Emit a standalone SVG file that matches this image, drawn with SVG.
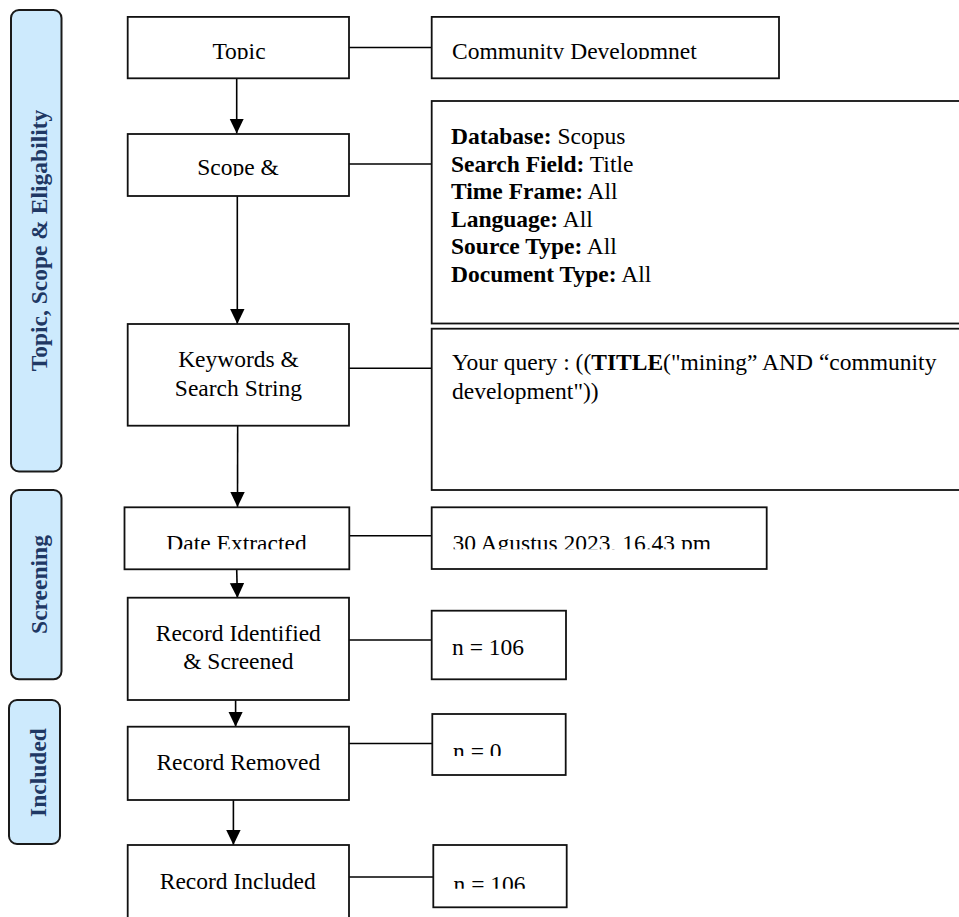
<svg xmlns="http://www.w3.org/2000/svg" width="959" height="917" viewBox="0 0 959 917">
<style>
  .band { fill: #cdeafd; stroke: #1a1a1a; stroke-width: 2; }
  .band-t { font-family: "Liberation Serif", "Times New Roman", serif; font-size: 23.5px; font-weight: bold; fill: #1f3864; text-anchor: middle; }
  .box { fill: #ffffff; stroke: #111111; stroke-width: 1.8; }
  .t { font-family: "Liberation Serif", "Times New Roman", serif; font-size: 23.5px; fill: #000000; }
  .c { text-anchor: middle; }
  .b { font-weight: bold; }
  .line { fill: none; stroke: #000000; stroke-width: 1.6; }
  .arrow { fill: none; stroke: #000000; stroke-width: 1.6; marker-end: url(#ah); }
</style>
<defs>
  <marker id="ah" markerUnits="userSpaceOnUse" markerWidth="16" markerHeight="15" refX="15" refY="7.2" orient="auto">
    <path d="M0,0 L15,7.2 L0,14.4 Z" fill="#000000"/>
  </marker>
  <clipPath id="clipTopic"><rect x="0" y="0" width="959" height="59.3"/></clipPath>
  <clipPath id="clipScope"><rect x="0" y="100" width="959" height="76"/></clipPath>
  <clipPath id="clipDate"><rect x="0" y="500" width="959" height="49.3"/></clipPath>
  <clipPath id="clipN0"><rect x="0" y="700" width="959" height="56"/></clipPath>
  <clipPath id="clipN106b"><rect x="0" y="840" width="959" height="48.7"/></clipPath>
</defs>

<!-- Phase bands -->
<g id="band-topic">
  <rect class="band" x="11" y="10" width="50.5" height="461.5" rx="8"/>
  <text class="band-t" transform="translate(46.5,240.5) rotate(-90)">Topic, Scope &amp; Eligability</text>
</g>
<g id="band-screening">
  <rect class="band" x="11" y="490" width="50.5" height="189.3" rx="8"/>
  <text class="band-t" transform="translate(46.5,584.5) rotate(-90)">Screening</text>
</g>
<g id="band-included">
  <rect class="band" x="9" y="700" width="51" height="144" rx="8"/>
  <text class="band-t" transform="translate(45.5,772.5) rotate(-90)">Included</text>
</g>

<!-- Connectors -->
<g id="connectors">
  <line class="arrow" x1="236.7" y1="78.3" x2="236.7" y2="133.5"/>
  <line class="arrow" x1="237.3" y1="196" x2="237.3" y2="324"/>
  <line class="arrow" x1="237.7" y1="405.7" x2="237.5" y2="507"/>
  <line class="arrow" x1="236.7" y1="569.3" x2="237.4" y2="598"/>
  <line class="arrow" x1="235.6" y1="693.3" x2="235.6" y2="726.7"/>
  <line class="arrow" x1="233.4" y1="788.3" x2="233.4" y2="845"/>
  <line class="line" x1="349" y1="47.5" x2="432" y2="47.5"/>
  <line class="line" x1="347.7" y1="164" x2="431.7" y2="164"/>
  <line class="line" x1="349" y1="368.3" x2="431.7" y2="368.3"/>
  <line class="line" x1="349" y1="535.7" x2="431.7" y2="535.7"/>
  <line class="line" x1="349" y1="640" x2="431.7" y2="640"/>
  <line class="line" x1="349" y1="743.5" x2="432.3" y2="743.5"/>
  <line class="line" x1="349" y1="877" x2="433.3" y2="877"/>
</g>

<!-- Left column nodes -->
<g id="node-topic">
  <rect class="box" x="127.7" y="16.9" width="221.3" height="61.4"/>
  <text class="t c" x="239" y="59" clip-path="url(#clipTopic)">Topic</text>
</g>
<g id="node-scope">
  <rect class="box" x="127.7" y="134" width="221.3" height="62"/>
  <text class="t c" x="238" y="175" clip-path="url(#clipScope)">Scope &amp;</text>
</g>
<g id="node-keywords">
  <rect class="box" x="127.7" y="324" width="221.3" height="101.7"/>
  <text class="t c" x="238.5" y="367">Keywords &amp;</text>
  <text class="t c" x="238.5" y="396">Search String</text>
</g>
<g id="node-date-extracted">
  <rect class="box" x="124.5" y="507.3" width="224.8" height="62"/>
  <text class="t c" x="236.5" y="551.3" clip-path="url(#clipDate)">Date Extracted</text>
</g>
<g id="node-record-identified">
  <rect class="box" x="127.7" y="597.7" width="221.3" height="102.3"/>
  <text class="t c" x="238.3" y="641">Record Identified</text>
  <text class="t c" x="238.3" y="669">&amp; Screened</text>
</g>
<g id="node-record-removed">
  <rect class="box" x="127.7" y="726.7" width="221.3" height="73.3"/>
  <text class="t c" x="238.3" y="770">Record Removed</text>
</g>
<g id="node-record-included">
  <rect class="box" x="127.7" y="845" width="221.3" height="90"/>
  <text class="t c" x="237.7" y="889">Record Included</text>
</g>

<!-- Right column nodes -->
<g id="node-community">
  <rect class="box" x="431.7" y="16.9" width="347.3" height="61.4"/>
  <text class="t" x="452" y="59" clip-path="url(#clipTopic)">Community Developmnet</text>
</g>
<g id="node-database">
  <rect class="box" x="431.7" y="101" width="540" height="222.5"/>
  <text class="t" x="451" y="144"><tspan class="b">Database:</tspan> Scopus</text>
  <text class="t" x="451" y="171.5"><tspan class="b">Search Field:</tspan> Title</text>
  <text class="t" x="451" y="199"><tspan class="b">Time Frame:</tspan> All</text>
  <text class="t" x="451" y="226.5"><tspan class="b">Language:</tspan> All</text>
  <text class="t" x="451" y="254"><tspan class="b">Source Type:</tspan> All</text>
  <text class="t" x="451" y="281.5"><tspan class="b">Document Type:</tspan> All</text>
</g>
<g id="node-query">
  <rect class="box" x="431.7" y="328.7" width="540" height="161.3"/>
  <text class="t" x="452" y="370">Your query : ((<tspan class="b">TITLE</tspan>("mining” AND “community</text>
  <text class="t" x="452" y="398.5">development"))</text>
</g>
<g id="node-date">
  <rect class="box" x="431.7" y="507.3" width="335" height="61.7"/>
  <text class="t" x="452.5" y="551.3" clip-path="url(#clipDate)">30 Agustus 2023, 16.43 pm</text>
</g>
<g id="node-n106a">
  <rect class="box" x="431.7" y="610.7" width="134.3" height="68.6"/>
  <text class="t" x="452" y="654.7">n = 106</text>
</g>
<g id="node-n0">
  <rect class="box" x="432.3" y="714" width="133.4" height="61"/>
  <text class="t" x="453" y="758.5" clip-path="url(#clipN0)">n = 0</text>
</g>
<g id="node-n106b">
  <rect class="box" x="433.3" y="845" width="133.4" height="62.3"/>
  <text class="t" x="453.5" y="891.5" clip-path="url(#clipN106b)">n = 106</text>
</g>
</svg>
